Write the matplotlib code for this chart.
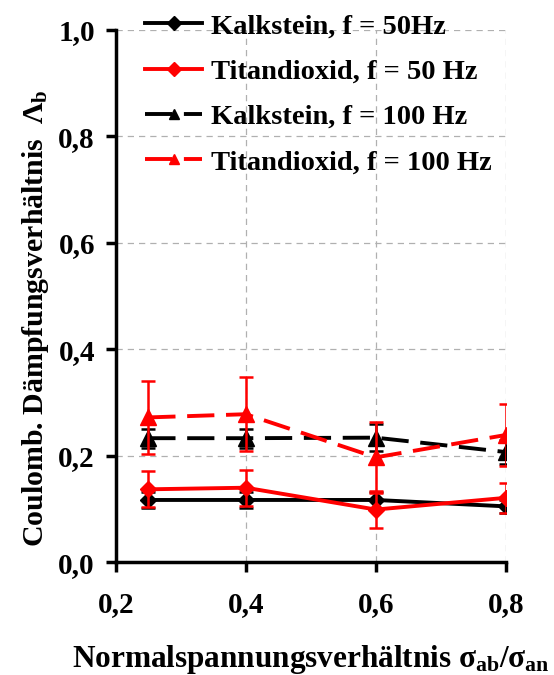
import matplotlib
matplotlib.use("Agg")
import matplotlib.pyplot as plt

# Daten
sigma_ratio = [0.25, 0.4, 0.6, 0.8]

kalk_50 = [0.117, 0.117, 0.117, 0.105]
kalk_50_err = [0.015, 0.015, 0.015, 0.012]
titan_50 = [0.137, 0.140, 0.099, 0.121]
titan_50_err = [0.034, 0.034, 0.034, 0.028]

kalk_100 = [0.233, 0.233, 0.234, 0.207]
kalk_100_err = [0.018, 0.018, 0.026, 0.023]
titan_100 = [0.272, 0.278, 0.197, 0.239]
titan_100_err = [0.069, 0.069, 0.066, 0.058]

x_ticks = [0.2, 0.4, 0.6, 0.8]
x_labels = ["0,2", "0,4", "0,6", "0,8"]
y_ticks = [0.0, 0.2, 0.4, 0.6, 0.8, 1.0]
y_labels = ["0,0", "0,2", "0,4", "0,6", "0,8", "1,0"]

plt.rcParams["font.family"] = ["Liberation Serif", "DejaVu Serif"]
plt.rcParams["font.weight"] = "bold"
plt.rcParams["mathtext.fontset"] = "custom"
plt.rcParams["mathtext.rm"] = "Liberation Serif:bold"
plt.rcParams["mathtext.it"] = "Liberation Serif:bold"
plt.rcParams["mathtext.bf"] = "Liberation Serif:bold"

fig = plt.figure(figsize=(5.54, 6.75), dpi=100)
ax = fig.add_axes([0.209, 0.167, 0.704, 0.789])

dash = (7, 3)
serien = [
    (kalk_50, kalk_50_err, "black", "D", 8.5, "-", "Kalkstein, f = 50Hz"),
    (titan_50, titan_50_err, "red", "D", 8.5, "-", "Titandioxid, f = 50 Hz"),
    (kalk_100, kalk_100_err, "black", "^", 11.5, (0, dash), "Kalkstein, f = 100 Hz"),
    (titan_100, titan_100_err, "red", "^", 11.5, (0, dash), "Titandioxid, f = 100 Hz"),
]
handles = []
for i, (werte, fehler, farbe, marker, ms, ls, name) in enumerate(serien):
    ax.errorbar(sigma_ratio, werte, yerr=fehler, color=farbe, marker=marker,
                markersize=ms, linewidth=2.8, capsize=5, elinewidth=1.8,
                capthick=1.8, linestyle=ls, zorder=3 + (i % 2))
    # Legendeneintrag ohne Fehlerbalken
    h, = ax.plot([], [], color=farbe, marker=marker, markersize=7.5,
                 linewidth=2.8, linestyle=ls, label=name)
    handles.append(h)

ax.set_xlim(0.2, 0.8)
ax.set_ylim(0.0, 1.0)
ax.set_xticks(x_ticks)
ax.set_xticklabels(x_labels)
ax.set_yticks(y_ticks)
ax.set_yticklabels(y_labels)
ax.tick_params(axis="both", labelsize=21, direction="out", length=7, width=2.5)
ax.tick_params(axis="x", pad=14)
ax.tick_params(axis="y", pad=8)

ax.grid(True, color="#b0b0b0", linestyle=(0, (5, 4)), linewidth=0.9)
ax.spines["top"].set_visible(False)
ax.spines["right"].set_visible(False)
ax.spines["left"].set_linewidth(2.5)
ax.spines["bottom"].set_linewidth(2.5)

ax.set_xlabel(r"Normalspannungsverhältnis $\sigma_{\rm ab}/\sigma_{\rm an}$",
              fontsize=22.5, fontweight="bold", labelpad=18)
ax.set_ylabel(r"Coulomb. Dämpfungsverhältnis  $\Lambda_{\rm b}$",
              fontsize=21.5, fontweight="bold")
ax.yaxis.set_label_coords(-0.165, 0.458)

ax.legend(handles=handles, loc="upper left", bbox_to_anchor=(0.025, 1.068),
          frameon=False, fontsize=20.5, handlelength=2.0, labelspacing=0.68,
          handletextpad=0.3, borderpad=0.2)

fig.savefig("out.png", dpi=100)
